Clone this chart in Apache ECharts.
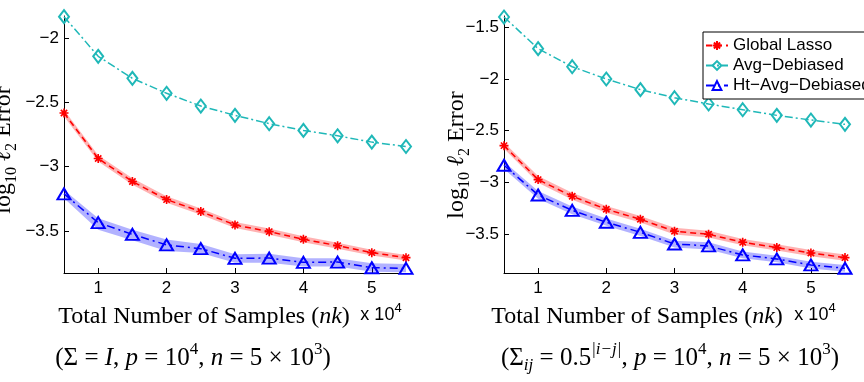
<!DOCTYPE html>
<html>
<head>
<meta charset="utf-8">
<script src="https://cdn.jsdelivr.net/npm/echarts@6/dist/echarts.min.js"></script>
<style>
	html, body { margin: 0; padding: 0; background: #fff; }
	#container { width: 864px; height: 382px; }
</style>
</head>
<body>
<div id="container"></div>
<script>
	/*x: total number of samples (x 10^4)*/
	var samples = [0.5, 1, 1.5, 2, 2.5, 3, 3.5, 4, 4.5, 5, 5.5];
	var xTicks = [1, 2, 3, 4, 5];
	var yTicksLeft = [-3.5, -3, -2.5, -2];
	var yTicksRight = [-3.5, -3, -2.5, -2, -1.5];
	var names = ['Global Lasso', 'Avg\u2212Debiased', 'Ht\u2212Avg\u2212Debiased'];

	/*左图 Sigma = I*/
	var lassoL = [-2.583, -2.936, -3.115, -3.255, -3.348, -3.452, -3.504, -3.563, -3.613, -3.667, -3.706];
	var lassoLHi = [-2.56, -2.91, -3.09, -3.23, -3.325, -3.43, -3.48, -3.54, -3.59, -3.645, -3.685];
	var lassoLLo = [-2.61, -2.96, -3.14, -3.28, -3.372, -3.475, -3.528, -3.587, -3.637, -3.69, -3.728];
	var avgL = [-1.835, -2.143, -2.314, -2.430, -2.529, -2.601, -2.666, -2.718, -2.760, -2.809, -2.843];
	var htL = [-3.211, -3.434, -3.525, -3.607, -3.636, -3.711, -3.709, -3.742, -3.740, -3.784, -3.789];
	var htLHi = [-3.18, -3.40, -3.49, -3.565, -3.60, -3.68, -3.675, -3.71, -3.71, -3.75, -3.755];
	var htLLo = [-3.245, -3.49, -3.57, -3.655, -3.67, -3.745, -3.745, -3.775, -3.775, -3.815, -3.82];

	/*右图 Sigma_ij = 0.5^|i-j|*/
	var lassoR = [-2.645, -2.974, -3.135, -3.261, -3.358, -3.474, -3.503, -3.581, -3.632, -3.684, -3.729];
	var lassoRHi = [-2.615, -2.94, -3.10, -3.23, -3.325, -3.44, -3.47, -3.55, -3.60, -3.655, -3.70];
	var lassoRLo = [-2.675, -3.005, -3.17, -3.295, -3.39, -3.505, -3.535, -3.61, -3.66, -3.715, -3.76];
	var avgR = [-1.40, -1.706, -1.881, -2.0, -2.103, -2.181, -2.242, -2.297, -2.352, -2.397, -2.439];
	var htR = [-2.835, -3.123, -3.271, -3.387, -3.484, -3.597, -3.616, -3.703, -3.742, -3.80, -3.832];
	var htRHi = [-2.80, -3.085, -3.235, -3.35, -3.45, -3.565, -3.58, -3.67, -3.71, -3.77, -3.80];
	var htRLo = [-2.87, -3.16, -3.31, -3.42, -3.52, -3.63, -3.65, -3.735, -3.775, -3.835, -3.865];

	var RED = '#ff0000', CYAN = '#1fb8b8', BLUE = '#0000ff';
	var SANS = 'Liberation Sans', SERIF = 'Liberation Serif';
	var starPath = 'path://M0,-10L0,10M-10,0L10,0M-7,-7L7,7M-7,7L7,-7';

	function pairs(ys) {
		return samples.map(function(x, i) {
			return [x, ys[i]];
		});
	}

	function xAxis(idx) {
		return {
			gridIndex: idx, type: 'value', min: 0.5, max: 5.5,
			axisLine: { onZero: false, lineStyle: { color: '#000', width: 1 } },
			axisTick: { inside: true, length: 5, customValues: xTicks, lineStyle: { color: '#000' } },
			axisLabel: { customValues: xTicks, color: '#000', fontFamily: SANS, fontSize: 17, margin: 7 },
			splitLine: { show: false }
		};
	}

	function yAxis(idx, min, max, ticks) {
		return {
			gridIndex: idx, type: 'value', min: min, max: max,
			axisLine: { show: true, onZero: false, lineStyle: { color: '#000', width: 1 } },
			axisTick: { show: true, inside: true, length: 5, customValues: ticks, lineStyle: { color: '#000' } },
			axisLabel: {
				customValues: ticks, color: '#000', fontFamily: SANS, fontSize: 17, margin: 5,
				formatter: function(v) { return String(v).replace('-', '\u2212'); }
			},
			splitLine: { show: false }
		};
	}

	/*误差带*/
	function band(idx, lo, hi, color) {
		return {
			type: 'custom', xAxisIndex: idx, yAxisIndex: idx, silent: true, z: 1, clip: true,
			data: [[samples[0], lo[0]]],
			renderItem: function(params, api) {
				var pts = [];
				for (var i = 0; i < samples.length; i++) pts.push(api.coord([samples[i], hi[i]]));
				for (var j = samples.length - 1; j >= 0; j--) pts.push(api.coord([samples[j], lo[j]]));
				return { type: 'polygon', shape: { points: pts }, style: { fill: color } };
			}
		};
	}

	function lassoLine(idx, ys) {
		return {
			name: names[0], type: 'line', xAxisIndex: idx, yAxisIndex: idx, data: pairs(ys), z: 3,
			symbol: starPath, symbolSize: 9,
			lineStyle: { color: RED, width: 1.5, type: [6, 4] },
			itemStyle: { color: RED, borderColor: RED, borderWidth: 1.6 }
		};
	}

	function avgLine(idx, ys) {
		return {
			name: names[1], type: 'line', xAxisIndex: idx, yAxisIndex: idx, data: pairs(ys), z: 3,
			symbol: 'diamond', symbolSize: [10, 13],
			lineStyle: { color: CYAN, width: 1.5, type: [8, 3, 2, 3] },
			itemStyle: { color: 'rgba(255,255,255,0)', borderColor: CYAN, borderWidth: 2 }
		};
	}

	function htLine(idx, ys) {
		return {
			name: names[2], type: 'line', xAxisIndex: idx, yAxisIndex: idx, data: pairs(ys), z: 3,
			symbol: 'triangle', symbolSize: [13, 11],
			lineStyle: { color: BLUE, width: 1.5, type: [8, 4, 2, 4] },
			itemStyle: { color: 'rgba(255,255,255,0)', borderColor: BLUE, borderWidth: 2 }
		};
	}

	/*文字*/
	function serifRich(size) {
		var small = Math.round(size * 0.68);
		return {
			r: { fontFamily: SERIF, fontSize: size, lineHeight: size + 8 },
			i: { fontFamily: SERIF, fontSize: size, lineHeight: size + 8, fontStyle: 'italic' },
			sup: { fontFamily: SERIF, fontSize: small, verticalAlign: 'top' },
			isup: { fontFamily: SERIF, fontSize: small, verticalAlign: 'top', fontStyle: 'italic' },
			sub: { fontFamily: SERIF, fontSize: small, verticalAlign: 'bottom' },
			isub: { fontFamily: SERIF, fontSize: small, verticalAlign: 'bottom', fontStyle: 'italic' }
		};
	}
	var sansRich = {
		s: { fontFamily: SANS, fontSize: 18, lineHeight: 27 },
		sup: { fontFamily: SANS, fontSize: 13, verticalAlign: 'top' }
	};

	function label(x, y, text, rich, rot) {
		return {
			type: 'text', x: x, y: y, rotation: rot || 0,
			style: { text: text, rich: rich, align: 'center', verticalAlign: 'middle', fill: '#000' }
		};
	}

	var yName = '{r|log}{sub|10}{r| }{i|\u2113}{sub|2}{r| Error}';
	var xName = '{r|Total Number of Samples (}{i|nk}{r|)}';
	var scale = '{s|x 10}{sup|4}';
	var axisRich = serifRich(24);
	var noteRich = serifRich(25);

	var echart = echarts.init(document.getElementById('container'));
	var option = {
		backgroundColor: '#fff',
		animation: false,
		grid: [
			{ left: 64, top: 16, width: 342, height: 257, outerBoundsMode: 'none' },
			{ left: 504, top: 16, width: 341, height: 257, outerBoundsMode: 'none' }
		],
		xAxis: [xAxis(0), xAxis(1)],
		yAxis: [yAxis(0, -3.825, -1.83, yTicksLeft), yAxis(1, -3.878, -1.39, yTicksRight)],
		legend: {
			data: names, orient: 'vertical', left: 703, top: 32,
			backgroundColor: '#fff', borderColor: '#000', borderWidth: 1,
			padding: [5, 40, 5, 2], itemGap: 3, itemWidth: 22, itemHeight: 11,
			textStyle: { fontFamily: SANS, fontSize: 17, color: '#000' }
		},
		graphic: { elements: [
			label(4, 150, yName, axisRich, Math.PI / 2),
			label(457, 155, yName, axisRich, Math.PI / 2),
			label(204, 317, xName, axisRich),
			label(381, 315, scale, sansRich),
			label(637, 317, xName, axisRich),
			label(815, 315, scale, sansRich),
			label(193, 358, '{r|(\u03a3 = }{i|I}{r|, }{i|p}{r| = 10}{sup|4}{r|, }{i|n}{r| = 5 \u00d7 10}{sup|3}{r|)}', noteRich),
			label(670, 358, '{r|(\u03a3}{isub|ij}{r| = 0.5}{isup||i\u2212j|}{r|, }{i|p}{r| = 10}{sup|4}{r|, }{i|n}{r| = 5 \u00d7 10}{sup|3}{r|)}', noteRich)
		] },
		series: [
			band(0, lassoLLo, lassoLHi, 'rgba(255,0,0,0.3)'),
			band(0, htLLo, htLHi, 'rgba(0,0,255,0.3)'),
			lassoLine(0, lassoL), avgLine(0, avgL), htLine(0, htL),
			band(1, lassoRLo, lassoRHi, 'rgba(255,0,0,0.3)'),
			band(1, htRLo, htRHi, 'rgba(0,0,255,0.3)'),
			lassoLine(1, lassoR), avgLine(1, avgR), htLine(1, htR)
		]
	};
	echart.setOption(option);
</script>
</body>
</html>
